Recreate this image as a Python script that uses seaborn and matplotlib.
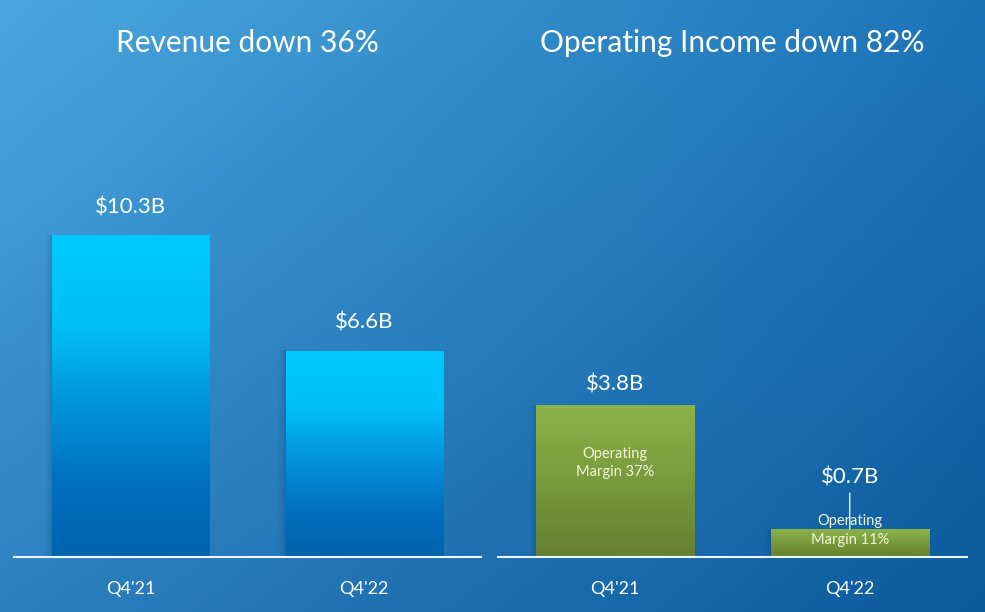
import numpy as np
import pandas as pd
import matplotlib
matplotlib.use("Agg")
import matplotlib.pyplot as plt
from matplotlib.colors import LinearSegmentedColormap
import seaborn as sns

# ---- data ----
quarters = ["Q4'21", "Q4'22"]
revenue = [10.3, 6.6]
op_income = [3.8, 0.7]
revenue_labels = ["$10.3B", "$6.6B"]
income_labels = ["$3.8B", "$0.7B"]
margin_labels = ["Operating\nMargin 37%", "Operating\nMargin 11%"]
titles = ["Revenue down 36%", "Operating Income down 82%"]

sns.set_theme(style="white")
plt.rcParams['font.family'] = ['Lato', 'DejaVu Sans']

W, H = 985, 612
fig = plt.figure(figsize=(W / 100, H / 100), dpi=100)

# background gradient
bg = fig.add_axes([0, 0, 1, 1], zorder=-10)
yy, xx = np.mgrid[0:1:200j, 0:1:300j]
tl = np.array([0x4b, 0xa8, 0xde]) / 255
tr = np.array([0x1c, 0x74, 0xb8]) / 255
bl = np.array([0x2c, 0x80, 0xc0]) / 255
br = np.array([0x0c, 0x5a, 0x9c]) / 255
img = (tl[None, None] * ((1 - xx) * (1 - yy))[..., None]
       + tr[None, None] * (xx * (1 - yy))[..., None]
       + bl[None, None] * ((1 - xx) * yy)[..., None]
       + br[None, None] * (xx * yy)[..., None])
bg.imshow(img, extent=[0, 1, 0, 1], aspect='auto', origin='upper')
bg.set_axis_off()

def px_axes(x0, x1, ybase, ytop):
    return fig.add_axes([x0 / W, (H - ybase) / H, (x1 - x0) / W, (ybase - ytop) / H])

ax1 = px_axes(14, 481, 557, 80)
ax2 = px_axes(498, 967, 557, 80)

df1 = pd.DataFrame({"q": quarters, "v": revenue})
df2 = pd.DataFrame({"q": quarters, "v": op_income})

sns.barplot(data=df1, x="q", y="v", ax=ax1, width=0.674, color="#00c7fd",
            saturation=1, zorder=3, linewidth=0, edgecolor="none")
sns.barplot(data=df2, x="q", y="v", ax=ax2, width=0.674, color="#7e9e3e",
            saturation=1, zorder=3, linewidth=0, edgecolor="none")

ylims = [(0, 477 / 31.26), (0, 477 / 40.0)]

cyan_cmap = LinearSegmentedColormap.from_list(
    "cy", [(0.0, "#0063ae"), (0.22, "#006fbd"), (0.5, "#0097dd"),
           (0.72, "#00c0f7"), (1.0, "#00c9ff")])
green_cmap = LinearSegmentedColormap.from_list(
    "gr", [(0.0, "#667f30"), (0.5, "#789a3c"), (1.0, "#8db24a")])

shadow = np.zeros((2, 64, 4))
shadow[..., 0] = 0x08 / 255
shadow[..., 1] = 0x35 / 255
shadow[..., 2] = 0x66 / 255
shadow[..., 3] = np.linspace(0, 0.45, 64)[None, :] ** 1.6

for ax, cmap, ylim in [(ax1, cyan_cmap, ylims[0]), (ax2, green_cmap, ylims[1])]:
    for p in list(ax.patches):
        x0, y0 = p.get_x(), p.get_y()
        w, h = p.get_width(), p.get_height()
        ax.imshow(shadow, aspect='auto', extent=[x0 - 0.035, x0, y0, y0 + h],
                  zorder=2, interpolation='bilinear')
        grad = np.linspace(0, 1, 256)[:, None]
        im = ax.imshow(grad, cmap=cmap, origin='lower', aspect='auto',
                       extent=[x0, x0 + w, y0, y0 + h], zorder=4)
        im.set_clip_path(p)
    ax.set_xlim(-0.5, 1.5)
    ax.set_ylim(*ylim)
    ax.patch.set_alpha(0)
    for s in ["top", "right", "left"]:
        ax.spines[s].set_visible(False)
    ax.spines["bottom"].set_color("#eef6ff")
    ax.spines["bottom"].set_linewidth(1.5)
    ax.spines["bottom"].set_zorder(6)
    ax.set_yticks([])
    ax.set_xlabel("")
    ax.set_ylabel("")
    ax.tick_params(axis='x', length=0, pad=17, labelsize=13, labelcolor="white")

# value labels
for i, (v, lab) in enumerate(zip(revenue, revenue_labels)):
    ax1.annotate(lab, (i, v), xytext=(0, 20), textcoords="offset points",
                 ha="center", va="center", fontsize=16, color="white")

ax2.annotate(income_labels[0], (0, op_income[0]), xytext=(0, 15),
             textcoords="offset points", ha="center", va="center",
             fontsize=16, color="white")
ax2.annotate(income_labels[1], (1, op_income[1]), xytext=(0, 37),
             textcoords="offset points", ha="center", va="center",
             fontsize=16, color="white", zorder=7)
ax2.annotate("", xy=(1, op_income[1]), xytext=(0, 26),
             textcoords="offset points",
             arrowprops=dict(arrowstyle="-", color="white", lw=0.9,
                             shrinkA=0, shrinkB=0), zorder=7)

# margin texts
ax2.text(0, op_income[0] / 2 + 0.45, margin_labels[0], ha="center", va="center",
         fontsize=10.5, color="#f1f6d8", linespacing=1.45, zorder=7)
ax2.text(1, op_income[1] / 2 + 0.32, margin_labels[1], ha="center", va="center",
         fontsize=10.5, color="#f1f6d8", linespacing=1.45, zorder=7)

# titles
fig.text(247.5 / W, 1 - 43 / H, titles[0], ha="center", va="center",
         fontsize=21.5, color="white")
fig.text(732.5 / W, 1 - 43 / H, titles[1], ha="center", va="center",
         fontsize=21.5, color="white")

fig.savefig("out.png", dpi=100)
